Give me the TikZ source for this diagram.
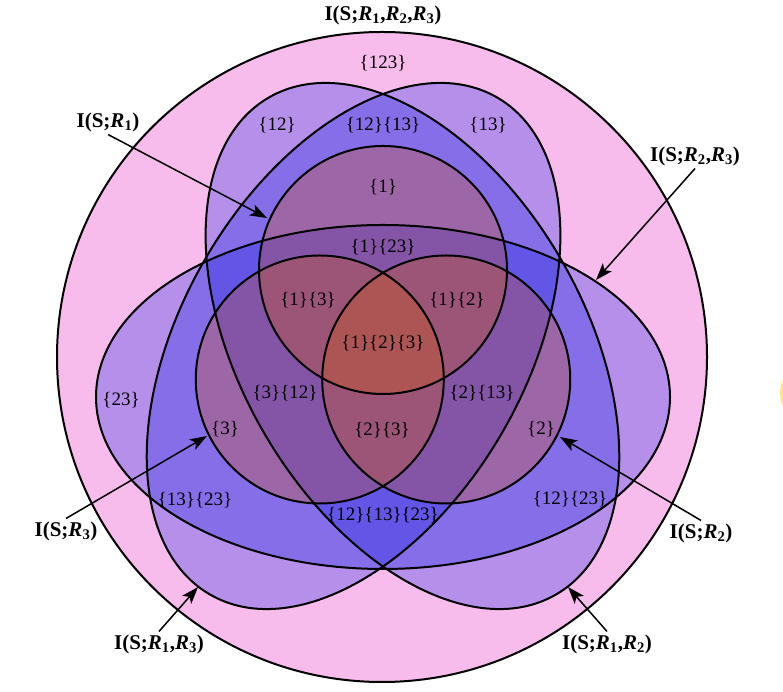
\documentclass[tikz,border=0pt]{standalone}
\usepackage{fontspec}
\setmainfont{Liberation Serif}
\usetikzlibrary{arrows.meta}

\definecolor{bgpink}{RGB}{248,188,236}
\definecolor{lobeblue}{RGB}{7,23,230}
\definecolor{ringred}{RGB}{219,85,0}
\definecolor{blobyellow}{RGB}{255,228,140}
\newcommand{\Rv}[1]{\textit{R}\textsubscript{#1}}

\begin{document}
\begin{tikzpicture}[x=1pt, y=1pt, >={Stealth[length=17pt,width=12pt,inset=4pt]}, line width=2pt,
    atom/.style={font=\fontsize{19}{21}\selectfont, inner sep=1pt},
    milbl/.style={font=\bfseries\fontsize{21}{23}\selectfont, inner sep=2pt}]
    \useasboundingbox (0,0) rectangle (783,692);
    \clip (0,0) rectangle (783,692);
    % 右边缘的黄色残影
    \fill[blobyellow] (797,299) ellipse [x radius=17pt, y radius=24pt];
    % 外圆
    \fill[bgpink] (382,335) circle (325pt);
    % 三个椭圆
    \coordinate (O) at (383,329);
    \foreach \a in {0,120,240}
      \fill[lobeblue, fill opacity=0.27, rotate around={\a:(O)}]
           (383,295) ellipse [x radius=287pt, y radius=172pt];
    % 三个小圆
    \coordinate (C) at (383,349);
    \foreach \a in {90,210,330}
      \fill[ringred, fill opacity=0.28] ([shift={(\a:73pt)}]C) circle (124pt);

    % 轮廓
    \draw (382,335) circle (325pt);
    \foreach \a in {0,120,240}
      \draw[rotate around={\a:(O)}] (383,295) ellipse [x radius=287pt, y radius=172pt];
    \foreach \a in {90,210,330}
      \draw ([shift={(\a:73pt)}]C) circle (124pt);

    % 区域标签
    \node[atom] (a123)    at (383,629) {\{123\}};
    \node[atom] (a12)     at (277,567) {\{12\}};
    \node[atom] (a12a13)  at (383,567) {\{12\}\{13\}};
    \node[atom] (a13)     at (488,567) {\{13\}};
    \node[atom] (a1)      at (383,505) {\{1\}};
    \node[atom] (a1a23)   at (383,445) {\{1\}\{23\}};
    \node[atom] (a1a3)    at (308,392) {\{1\}\{3\}};
    \node[atom] (a1a2)    at (457,392) {\{1\}\{2\}};
    \node[atom] (a1a2a3)  at (383,349) {\{1\}\{2\}\{3\}};
    \node[atom] (a3a12)   at (285,299) {\{3\}\{12\}};
    \node[atom] (a2a13)   at (482,299) {\{2\}\{13\}};
    \node[atom] (a23)     at (121,292) {\{23\}};
    \node[atom] (a3)      at (225,263) {\{3\}};
    \node[atom] (a2a3)    at (382,262) {\{2\}\{3\}};
    \node[atom] (a2)      at (541,263) {\{2\}};
    \node[atom] (a13a23)  at (195,192) {\{13\}\{23\}};
    \node[atom] (a12a23)  at (570,193) {\{12\}\{23\}};
    \node[atom] (a12a13a23) at (383,177) {\{12\}\{13\}\{23\}};

    % 互信息标签
    \node[milbl] (iall)  at (383,677) {I(S;\Rv1,\Rv2,\Rv3)};
    \node[milbl] (ir1)   at (108,570) {I(S;\Rv1)};
    \node[milbl] (ir23)  at (695,536) {I(S;\Rv2,\Rv3)};
    \node[milbl] (ir3)   at (66,161)  {I(S;\Rv3)};
    \node[milbl] (ir2)   at (701,159) {I(S;\Rv2)};
    \node[milbl] (ir13)  at (159,48)  {I(S;\Rv1,\Rv3)};
    \node[milbl] (ir12)  at (607,48)  {I(S;\Rv1,\Rv2)};

    % 箭头终点
    \coordinate (t1)  at (267,474);
    \coordinate (t23) at (596,412);
    \coordinate (t3)  at (207,256);
    \coordinate (t2)  at (560,255);
    \coordinate (t13) at (198,105);
    \coordinate (t12) at (568,105);

    % 箭头
    \draw[->, line width=1.5pt] (ir1.south) -- (t1);
    \draw[->, line width=1.5pt] (ir23.south) -- (t23);
    \draw[->, line width=1.5pt] (ir3.north) -- (t3);
    \draw[->, line width=1.5pt] (ir2.north) -- (t2);
    \draw[->, line width=1.5pt] (ir13.north) -- (t13);
    \draw[->, line width=1.5pt] (ir12.north) -- (t12);
\end{tikzpicture}
\end{document}
